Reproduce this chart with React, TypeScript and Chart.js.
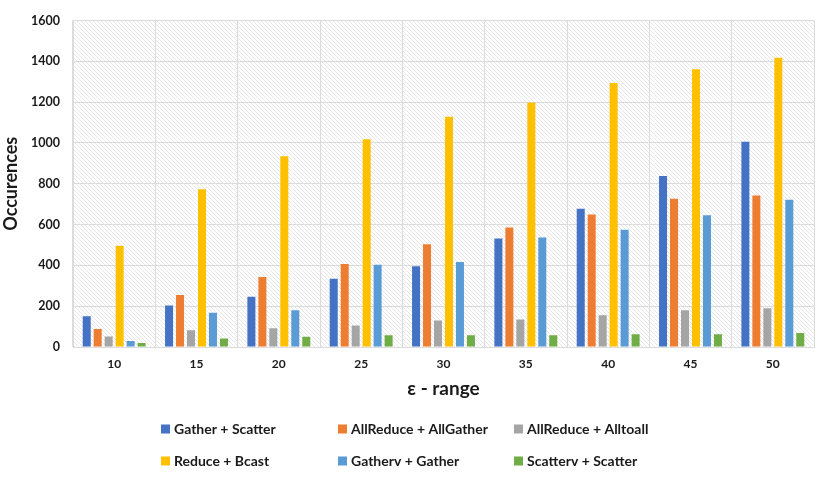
import React, { useEffect, useRef } from "react";
import { Chart, registerables } from "chart.js";

Chart.register(...registerables);

const categories = ["10", "15", "20", "25", "30", "35", "40", "45", "50"];
const seriesNames = [
  "Gather + Scatter",
  "AllReduce + AllGather",
  "AllReduce + Alltoall",
  "Reduce + Bcast",
  "Gatherv + Gather",
  "Scatterv + Scatter",
];
const gatherScatter = [151, 203, 246, 335, 396, 532, 678, 838, 1006];
const allReduceAllGather = [88, 255, 343, 407, 504, 586, 649, 726, 743];
const allReduceAlltoall = [52, 82, 92, 105, 130, 135, 155, 180, 190];
const reduceBcast = [496, 773, 935, 1018, 1128, 1198, 1294, 1361, 1417];
const gathervGather = [29, 168, 180, 403, 417, 536, 575, 646, 722];
const scattervScatter = [19, 42, 50, 57, 57, 58, 63, 63, 68];
const colors = ["#4472C4", "#ED7D31", "#A5A5A5", "#FFC000", "#5B9BD5", "#70AD47"];

const FONT = "Lato, 'Open Sans', sans-serif";
const TEXT = "#1a1a1a";

function makePattern(ctx: CanvasRenderingContext2D) {
  const c = document.createElement("canvas");
  c.width = 4;
  c.height = 4;
  const p = c.getContext("2d")!;
  p.fillStyle = "#ffffff";
  p.fillRect(0, 0, 4, 4);
  p.strokeStyle = "#e0e0e0";
  p.lineWidth = 0.8;
  p.beginPath();
  p.moveTo(-1, -1);
  p.lineTo(5, 5);
  p.moveTo(-1, 3);
  p.lineTo(1, 5);
  p.moveTo(3, -1);
  p.lineTo(5, 1);
  p.stroke();
  return ctx.createPattern(c, "repeat");
}

const hatchPlugin = {
  id: "hatchBg",
  beforeDraw(chart: any) {
    const { ctx, chartArea } = chart;
    const pat = makePattern(ctx);
    ctx.save();
    ctx.fillStyle = pat || "#fff";
    ctx.fillRect(chartArea.left, chartArea.top, chartArea.right - chartArea.left, chartArea.bottom - chartArea.top);
    ctx.restore();
  },
};

const gridLegendPlugin = {
  id: "gridLegend",
  afterDraw(chart: any) {
    const ctx = chart.ctx;
    const cols = [161, 338, 514];
    const rows = [429, 461];
    ctx.save();
    chart.data.datasets.forEach((ds: any, i: number) => {
      const x = cols[i % 3];
      const y = rows[Math.floor(i / 3)];
      ctx.fillStyle = ds.backgroundColor;
      ctx.fillRect(x, y - 4.5, 9, 9);
      ctx.fillStyle = TEXT;
      ctx.font = `bold 14px ${FONT}`;
      ctx.textBaseline = "middle";
      ctx.textAlign = "left";
      ctx.fillText(ds.label, x + 13, y + 0.5);
    });
    ctx.restore();
  },
};

export default function App() {
  const ref = useRef<HTMLCanvasElement>(null);
  useEffect(() => {
    document.body.style.margin = "0";
    const values = [gatherScatter, allReduceAllGather, allReduceAlltoall, reduceBcast, gathervGather, scattervScatter];
    const chart = new Chart(ref.current!, {
      type: "bar",
      data: {
        labels: categories,
        datasets: values.map((v, i) => ({
          label: seriesNames[i],
          data: v,
          backgroundColor: colors[i],
          borderWidth: 0,
          categoryPercentage: 0.8,
          barPercentage: 0.73,
        })),
      },
      options: {
        animation: false,
        responsive: true,
        maintainAspectRatio: false,
        layout: { padding: { left: 0, right: 16, top: 17, bottom: 82 } },
        plugins: {
          legend: { display: false },
          tooltip: { enabled: false },
        },
        scales: {
          x: {
            grid: { color: "#dcdcdc", lineWidth: 1, offset: true, drawTicks: false },
            border: { color: "#dcdcdc" },
            ticks: { color: TEXT, font: { family: FONT, size: 12, weight: "bold" }, padding: 10 },
            title: {
              display: true,
              text: "ε - range",
              color: TEXT,
              font: { family: FONT, size: 19, weight: "bold" },
              padding: { top: 0, bottom: 0 },
            },
            afterFit: (s: any) => {
              s.height = 53;
            },
          },
          y: {
            min: 0,
            max: 1600,
            ticks: {
              stepSize: 200,
              color: TEXT,
              font: { family: FONT, size: 12.5, weight: "bold" },
              padding: 13,
              callback: (v: any) => String(v),
            },
            grid: { color: "#dcdcdc", lineWidth: 1, drawTicks: false },
            border: { color: "#dcdcdc" },
            title: {
              display: true,
              text: "Occurences",
              color: TEXT,
              font: { family: FONT, size: 18, weight: "bold" },
              padding: { top: 0, bottom: 0 },
            },
            afterFit: (s: any) => {
              s.width = 73;
            },
          },
        },
      } as any,
      plugins: [hatchPlugin, gridLegendPlugin],
    });
    return () => chart.destroy();
  }, []);
  return (
    <div style={{ width: 830, height: 482, position: "relative", background: "#fff" }}>
      <canvas ref={ref} />
    </div>
  );
}
